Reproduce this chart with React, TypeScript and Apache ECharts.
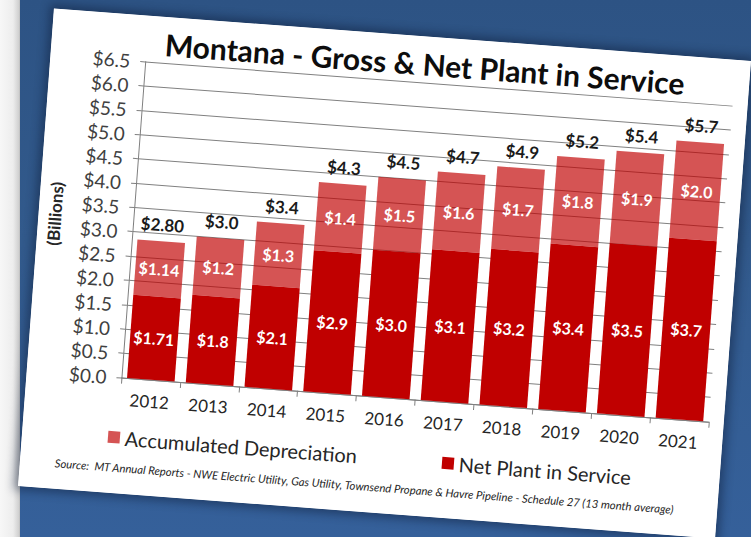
import React, { useEffect, useRef } from "react";
import * as echarts from "echarts";

const years = ["2012", "2013", "2014", "2015", "2016", "2017", "2018", "2019", "2020", "2021"];
const netPlant = [1.71, 1.8, 2.1, 2.9, 3.0, 3.1, 3.2, 3.4, 3.5, 3.7];
const accumDep = [1.14, 1.2, 1.3, 1.4, 1.5, 1.6, 1.7, 1.8, 1.9, 2.0];
const totalLabels = ["$2.80", "$3.0", "$3.4", "$4.3", "$4.5", "$4.7", "$4.9", "$5.2", "$5.4", "$5.7"];
const totalBase = [0, 0, 0, 0, 0, 0, 0, 0, 0, 0];
const yMin = 0;
const yMax = 6.5;
const yStep = 0.5;

const FONT = "Lato, 'Noto Sans', sans-serif";
const CARD_W = 699;
const CARD_H = 479;

function money(v: number): string {
  const t = v * 10;
  const oneDec = Math.abs(t - Math.round(t)) < 1e-6;
  return "$" + (oneDec ? v.toFixed(1) : v.toFixed(2));
}

export default function App() {
  const ref = useRef<HTMLDivElement>(null);

  useEffect(() => {
    if (!ref.current) return;
    const chart = echarts.init(ref.current, undefined, {
      renderer: "svg",
      width: CARD_W,
      height: CARD_H,
    });
    const insideLabel = {
      show: true,
      position: "inside" as const,
      color: "#ffffff",
      fontFamily: FONT,
      fontWeight: "bold" as const,
      fontSize: 16,
      formatter: (p: any) => money(p.value),
    };
    chart.setOption({
      animation: false,
      backgroundColor: "#ffffff",
      grid: { left: 85, right: 15, top: 46, bottom: 116 },
      legend: [
        {
          data: ["Accumulated Depreciation"],
          left: 81,
          top: 408,
          icon: "rect",
          itemWidth: 12,
          itemHeight: 12,
          textStyle: { fontFamily: FONT, fontSize: 20, color: "#262626" },
          selectedMode: false,
        },
        {
          data: ["Net Plant in Service"],
          left: 416,
          top: 409,
          icon: "rect",
          itemWidth: 12,
          itemHeight: 12,
          textStyle: { fontFamily: FONT, fontSize: 20, color: "#262626" },
          selectedMode: false,
        },
      ],
      graphic: [
        {
          type: "text",
          x: 374,
          y: 27,
          style: {
            text: "Montana - Gross & Net Plant in Service",
            fontFamily: FONT,
            fontWeight: "bold",
            fontSize: 30,
            fill: "#0d0d0d",
            textAlign: "center",
            textVerticalAlign: "middle",
          },
        },
        {
          type: "text",
          x: 35,
          y: 453,
          style: {
            text:
              "Source:  MT Annual Reports - NWE Electric Utility, Gas Utility, Townsend Propane & Havre Pipeline - Schedule 27 (13 month average)",
            fontFamily: FONT,
            fontStyle: "italic",
            fontSize: 11.3,
            fill: "#262626",
            textAlign: "left",
            textVerticalAlign: "middle",
          },
        },
      ],
      xAxis: {
        type: "category",
        data: years,
        axisLine: { show: true, lineStyle: { color: "#7f7f7f", width: 1 } },
        axisTick: { show: true, length: 6, lineStyle: { color: "#7f7f7f" } },
        axisLabel: { fontFamily: FONT, fontSize: 17, color: "#262626", margin: 13 },
      },
      yAxis: {
        type: "value",
        min: yMin,
        max: yMax,
        interval: yStep,
        name: "(Billions)",
        nameLocation: "middle",
        nameGap: 70,
        nameRotate: 90,
        nameTextStyle: { fontFamily: FONT, fontSize: 17, fontWeight: "bold", color: "#262626" },
        axisLine: { show: true, lineStyle: { color: "#7f7f7f", width: 1 } },
        axisTick: { show: true, length: 5, lineStyle: { color: "#7f7f7f" } },
        axisLabel: {
          fontFamily: FONT,
          fontSize: 19,
          color: "#404040",
          margin: 15,
          formatter: (v: number) => "$" + v.toFixed(1),
        },
        splitLine: { show: true, lineStyle: { color: "#808080", width: 1 } },
      },
      series: [
        {
          name: "Net Plant in Service",
          type: "bar",
          stack: "total",
          data: netPlant,
          barCategoryGap: "19%",
          itemStyle: { color: "#C00000" },
          label: insideLabel,
        },
        {
          name: "Accumulated Depreciation",
          type: "bar",
          stack: "total",
          data: accumDep,
          itemStyle: { color: "rgba(192,0,0,0.67)" },
          label: insideLabel,
        },
        {
          name: "Total",
          type: "bar",
          stack: "total",
          data: totalBase,
          silent: true,
          itemStyle: { color: "rgba(0,0,0,0)" },
          label: {
            show: true,
            position: "top",
            distance: 8,
            color: "#1a1a1a",
            fontFamily: FONT,
            fontWeight: "bold",
            fontSize: 17,
            formatter: (p: any) => totalLabels[p.dataIndex],
          },
        },
      ],
    });
    return () => chart.dispose();
  }, []);

  return (
    <div
      style={{
        position: "fixed",
        left: 0,
        top: 0,
        width: 751,
        height: 537,
        overflow: "hidden",
        backgroundColor: "#335c90",
      }}
    >
      <div
        style={{
          position: "absolute",
          left: 0,
          top: 0,
          width: 20,
          height: 537,
          background: "linear-gradient(to right, #f7f7f7 0px, #ededed 13px, #cfcfcf 19px, #b9b9b9 20px)",
        }}
      />
      <div
        style={{
          position: "absolute",
          left: 20,
          top: 0,
          width: 731,
          height: 537,
          background: "linear-gradient(to bottom, #2d5384 0%, #325a8c 45%, #35609a 100%)",
        }}
      />
      <div
        style={{
          position: "absolute",
          left: 384 - CARD_W / 2,
          top: 273 - CARD_H / 2,
          width: CARD_W,
          height: CARD_H,
          transform: "rotate(4.3deg)",
          transformOrigin: "50% 50%",
          background: "#ffffff",
          boxShadow: "0 0 10px 4px rgba(10,25,50,0.45)",
        }}
      >
        <div ref={ref} style={{ width: CARD_W, height: CARD_H }} />
      </div>
    </div>
  );
}
